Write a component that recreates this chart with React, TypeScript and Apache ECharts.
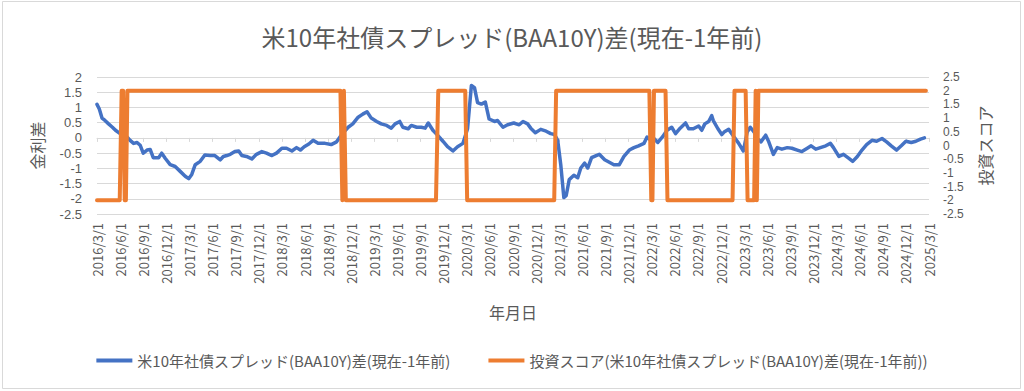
import React, { useEffect, useRef } from "react";
import * as echarts from "echarts";

// Months since 2016/3/1 (x) and 1-year change in BAA10Y spread (y)
const spreadMonths = [
  0, 0.3, 0.65, 1.0, 1.5, 2.0, 2.4, 3.0, 3.5, 3.9, 4.3, 4.75, 5.2, 5.6, 6.0, 6.5, 6.9, 7.3, 8.0, 8.4,
  8.85, 9.5, 10.15, 10.8, 11.45, 11.9, 12.3, 12.75, 13.4, 14.0, 14.7, 15.3, 16.0, 16.4, 16.85, 17.3,
  17.9, 18.4, 18.8, 19.4, 20.1, 20.7, 21.4, 22.0, 22.7, 23.3, 24.0, 24.6, 25.3, 25.9, 26.4, 26.9,
  27.5, 28.05, 28.7, 29.6, 30.4, 31.1, 31.7, 32.6, 33.2, 33.9, 34.5, 35.05, 35.6, 36.3, 36.9, 37.6,
  38.2, 38.7, 39.3, 39.7, 40.4, 40.8, 41.5, 42.1, 42.6, 43.0, 43.6, 44.2, 44.9, 45.5, 46.2, 46.8,
  47.5, 48.1, 48.6, 49.0, 49.4, 49.9, 50.4, 50.9, 51.6, 52.0, 52.7, 53.3, 54.1, 54.8, 55.3, 55.9,
  56.3, 56.9, 57.6, 58.3, 58.9, 59.4, 59.8, 60.2, 60.6, 60.9, 61.3, 61.9, 62.4, 62.8, 63.3, 63.7,
  64.2, 64.8, 65.2, 65.9, 66.5, 67.1, 67.8, 68.4, 69.1, 69.7, 70.3, 71.0, 71.4, 71.9, 72.3, 72.8,
  73.4, 74.0, 74.6, 75.1, 75.7, 76.4, 76.8, 77.4, 78.1, 78.5, 78.9, 79.4, 79.8, 80.0, 80.6, 81.1,
  81.4, 82.0, 82.7, 83.3, 83.9, 84.4, 84.8, 85.3, 85.7, 86.2, 86.8, 87.2, 87.8, 88.3, 88.9, 89.6,
  90.2, 90.9, 91.5, 92.2, 92.7, 93.3, 93.9, 94.6, 95.2, 95.6, 96.3, 96.9, 97.6, 98.1, 98.7, 99.3,
  99.9, 100.6, 101.2, 101.9, 102.5, 103.1, 103.8, 104.4, 105.0, 105.7, 106.3, 106.9, 107.4,
];
const spreadValues = [
  1.1, 0.95, 0.65, 0.58, 0.46, 0.35, 0.25, 0.14, 0.08, 0.03, -0.08, -0.18, -0.15, -0.24, -0.5, -0.4, -0.38, -0.65, -0.65, -0.5,
  -0.67, -0.88, -0.94, -1.1, -1.26, -1.34, -1.2, -0.88, -0.77, -0.56, -0.58, -0.58, -0.72, -0.61, -0.58, -0.54,
  -0.45, -0.43, -0.58, -0.61, -0.69, -0.54, -0.45, -0.5, -0.58, -0.5, -0.34, -0.34, -0.43, -0.32, -0.4, -0.29,
  -0.2, -0.08, -0.18, -0.18, -0.22, -0.13, 0.09, 0.35, 0.46, 0.68, 0.78, 0.86, 0.65, 0.54, 0.46, 0.41,
  0.32, 0.46, 0.54, 0.35, 0.3, 0.41, 0.35, 0.35, 0.32, 0.49, 0.25, 0.09, -0.11, -0.29, -0.43, -0.29,
  -0.18, 0.3, 1.72, 1.65, 1.16, 1.11, 1.18, 0.62, 0.54, 0.57, 0.35, 0.43, 0.49, 0.43, 0.54, 0.46,
  0.32, 0.17, 0.28, 0.22, 0.14, 0.11, -0.08, -0.88, -1.96, -1.9, -1.37, -1.23, -1.31, -0.99, -0.83, -0.99,
  -0.65, -0.58, -0.54, -0.72, -0.8, -0.88, -0.88, -0.61, -0.4, -0.32, -0.26, -0.18, 0.03, -0.08, -0.02, -0.15,
  0.03, 0.25, 0.35, 0.14, 0.32, 0.49, 0.3, 0.3, 0.39, 0.25, 0.46, 0.54, 0.73, 0.57, 0.3, 0.11,
  0.19, 0.28, 0.03, -0.18, -0.43, 0.19, 0.35, 0.19, -0.02, -0.13, 0.09, -0.13, -0.54, -0.32, -0.37, -0.32,
  -0.34, -0.4, -0.45, -0.34, -0.26, -0.37, -0.32, -0.26, -0.18, -0.32, -0.61, -0.54, -0.67, -0.77, -0.61, -0.4,
  -0.22, -0.08, -0.11, -0.02, -0.13, -0.26, -0.4, -0.26, -0.11, -0.15, -0.11, -0.04, 0.0,
];

// Investment score (secondary axis)
const scoreMonths = [
  0, 2.95, 3.2, 3.4, 3.6, 3.75, 3.95, 31.6, 31.85, 32.05, 32.3, 44.0, 44.3, 47.8, 48.05, 59.35, 59.6,
  71.7, 71.95, 72.1, 72.3, 73.8, 74.05, 82.5, 82.75, 84.2, 84.45, 85.3, 85.5, 85.65, 85.85, 107.6,
];
const scoreValues = [
  -2, -2, 2, 2, -2, -2, 2, 2, -2, 2, -2, -2, 2, 2, -2, -2, 2,
  2, -2, -2, 2, 2, -2, -2, 2, 2, -2, -2, 2, -2, 2, 2,
];

const quarterLabels = [
  "2016/3/1", "2016/6/1", "2016/9/1", "2016/12/1",
  "2017/3/1", "2017/6/1", "2017/9/1", "2017/12/1",
  "2018/3/1", "2018/6/1", "2018/9/1", "2018/12/1",
  "2019/3/1", "2019/6/1", "2019/9/1", "2019/12/1",
  "2020/3/1", "2020/6/1", "2020/9/1", "2020/12/1",
  "2021/3/1", "2021/6/1", "2021/9/1", "2021/12/1",
  "2022/3/1", "2022/6/1", "2022/9/1", "2022/12/1",
  "2023/3/1", "2023/6/1", "2023/9/1", "2023/12/1",
  "2024/3/1", "2024/6/1", "2024/9/1", "2024/12/1",
  "2025/3/1",
];

const seriesNames = [
  "米10年社債スプレッド(BAA10Y)差(現在-1年前)",
  "投資スコア(米10年社債スプレッド(BAA10Y)差(現在-1年前))",
];

const FONT = "'Noto Sans CJK JP', 'Noto Sans', sans-serif";
const NUM_FONT = "'Liberation Sans', Arial, sans-serif";
const GREY = "#595959";
const GRID = "#d9d9d9";

export default function App() {
  const ref = useRef<HTMLDivElement>(null);
  useEffect(() => {
    if (!ref.current) return;
    const chart = echarts.init(ref.current, undefined, { renderer: "svg" });
    const blue = spreadMonths.map((m, i) => [m, spreadValues[i]]);
    const orange = scoreMonths.map((m, i) => [m, scoreValues[i]]);
    chart.setOption({
      animation: false,
      backgroundColor: "#ffffff",
      textStyle: { fontFamily: FONT },
      title: {
        text: "米10年社債スプレッド(BAA10Y)差(現在-1年前)",
        left: "center",
        top: 24,
        padding: 0,
        textStyle: { color: GREY, fontSize: 24, fontWeight: "normal", fontFamily: FONT },
      },
      graphic: [
        {
          type: "rect",
          shape: { x: 2.5, y: 1.5, width: 1018, height: 387 },
          style: { fill: "none", stroke: GRID, lineWidth: 1 },
          silent: true,
        },
      ],
      legend: {
        bottom: 18,
        left: "center",
        itemWidth: 36,
        itemHeight: 4,
        itemGap: 38,
        textStyle: { color: GREY, fontSize: 15, fontFamily: FONT },
        data: [
          { name: seriesNames[0], icon: "rect" },
          { name: seriesNames[1], icon: "rect" },
        ],
      },
      grid: { left: 97, right: 95, top: 77, bottom: 177 },
      xAxis: [
        {
          type: "value",
          min: 0,
          max: 108,
          interval: 3,
          position: "bottom",
          name: "年月日",
          nameLocation: "middle",
          nameGap: 90,
          nameTextStyle: { color: GREY, fontSize: 16, fontFamily: FONT },
          axisLine: { show: false, onZero: false },
          axisTick: { show: false },
          splitLine: { show: false },
          axisLabel: {
            rotate: 90,
            margin: 9,
            color: GREY,
            fontSize: 13,
            fontFamily: FONT,
            formatter: (v: number) => quarterLabels[Math.round(v / 3)] ?? "",
          },
        },
        {
          type: "value",
          min: 0,
          max: 108,
          interval: 3,
          position: "bottom",
          axisLine: { show: true, onZero: true, onZeroAxisIndex: 0, lineStyle: { color: GRID, width: 1 } },
          axisTick: { show: true, length: 4, lineStyle: { color: GRID } },
          axisLabel: { show: false },
          splitLine: { show: false },
        },
      ],
      yAxis: [
        {
          type: "value",
          min: -2.5,
          max: 2,
          interval: 0.5,
          name: "金利差",
          nameLocation: "middle",
          nameRotate: 90,
          nameGap: 52,
          nameTextStyle: { color: GREY, fontSize: 16, fontFamily: FONT },
          axisLine: { show: false },
          axisTick: { show: false },
          axisLabel: { color: GREY, fontSize: 13, lineHeight: 13, margin: 15, fontFamily: NUM_FONT },
          splitLine: { show: true, lineStyle: { color: GRID, width: 1 } },
        },
        {
          type: "value",
          min: -2.5,
          max: 2.5,
          interval: 0.5,
          position: "right",
          name: "投資スコア",
          nameLocation: "middle",
          nameRotate: 90,
          nameGap: 48,
          nameTextStyle: { color: GREY, fontSize: 16, fontFamily: FONT },
          axisLine: { show: false },
          axisTick: { show: false },
          axisLabel: {
            color: GREY,
            fontSize: 12,
            lineHeight: 12,
            margin: 14,
            hideOverlap: false,
            fontFamily: NUM_FONT,
          },
          splitLine: { show: false },
        },
      ],
      series: [
        {
          name: seriesNames[0],
          type: "line",
          xAxisIndex: 0,
          yAxisIndex: 0,
          data: blue,
          showSymbol: false,
          symbol: "none",
          color: "#4472C4",
          lineStyle: { color: "#4472C4", width: 3.5, join: "round", cap: "round" },
        },
        {
          name: seriesNames[1],
          type: "line",
          xAxisIndex: 0,
          yAxisIndex: 1,
          data: orange,
          showSymbol: false,
          symbol: "none",
          color: "#ED7D31",
          lineStyle: { color: "#ED7D31", width: 4, join: "round", cap: "round" },
        },
      ],
    });
    return () => chart.dispose();
  }, []);
  return (
    <div
      ref={ref}
      style={{ position: "fixed", left: 0, top: 0, width: 1024, height: 391 }}
    />
  );
}
